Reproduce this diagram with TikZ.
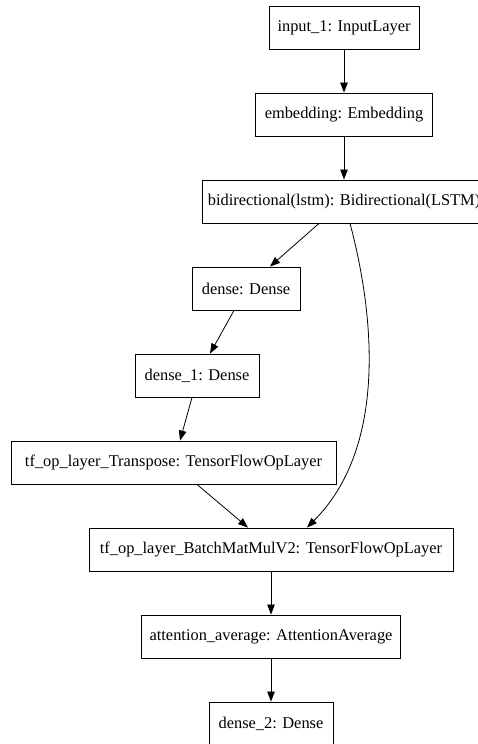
\documentclass[tikz,border=0pt]{standalone}
\usepackage{fontspec}
\setmainfont{Liberation Serif}
\usetikzlibrary{arrows.meta}
\begin{document}
\begin{tikzpicture}[x=1pt,y=1pt,
  layer/.style={draw, line width=0.9pt, inner sep=0pt, minimum height=43pt,
    font=\fontsize{16.4}{19}\selectfont},
  flow/.style={line width=0.8pt, -{Triangle[length=10pt,width=7.5pt]}}]
\useasboundingbox (0,0) rectangle (477,-744);
\fill[white] (0,0) rectangle (477,-744);

\node[layer, minimum width=150pt] (in)  at (344,-27.5)  {input\_1: InputLayer};
\node[layer, minimum width=177pt] (emb) at (344,-114.5) {embedding: Embedding};
\node[layer, minimum width=284pt] (bi)  at (344,-201.5) {bidirectional(lstm): Bidirectional(LSTM)};
\node[layer, minimum width=108pt] (d0)  at (246,-288.5) {dense: Dense};
\node[layer, minimum width=124pt] (d1)  at (197,-375.5) {dense\_1: Dense};
\node[layer, minimum width=325pt] (tr)  at (173.5,-462.5) {tf\_op\_layer\_Transpose: TensorFlowOpLayer};
\node[layer, minimum width=364pt] (bm)  at (271,-549.5) {tf\_op\_layer\_BatchMatMulV2: TensorFlowOpLayer};
\node[layer, minimum width=259pt] (att) at (271,-636.5) {attention\_average: AttentionAverage};
\node[layer, minimum width=124pt] (d2)  at (271,-723.5) {dense\_2: Dense};

\draw[flow] (in) -- (emb);
\draw[flow] (emb) -- (bi);
\draw[flow] ([xshift=-25pt]bi.south) -- ([xshift=24pt]d0.north);
\draw[flow] ([xshift=-12pt]d0.south) -- ([xshift=13pt]d1.north);
\draw[flow] ([xshift=-5pt]d1.south) -- ([xshift=6.5pt]tr.north);
\draw[flow] ([xshift=23.5pt]tr.south) -- ([xshift=-23pt]bm.north);
\draw[flow] ([xshift=6pt]bi.south) .. controls +(18,-67) and +(88,88) .. ([xshift=36pt]bm.north);
\draw[flow] (bm) -- (att);
\draw[flow] (att) -- (d2);
\end{tikzpicture}
\end{document}
